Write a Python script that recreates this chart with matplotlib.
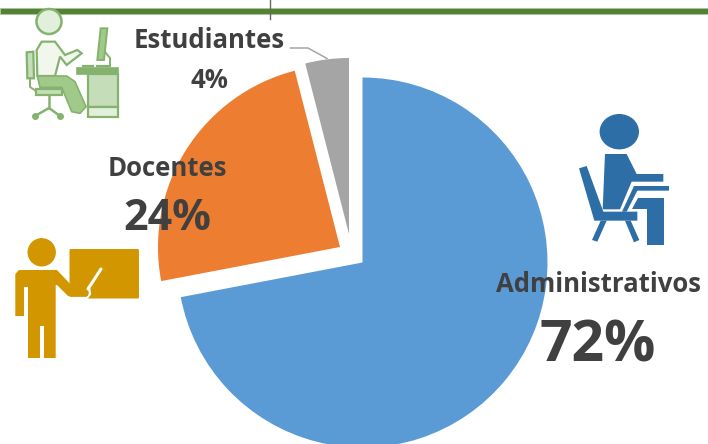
import matplotlib
matplotlib.use('Agg')
from matplotlib import pyplot as plt
from matplotlib.patches import Polygon, Ellipse, FancyBboxPatch, Rectangle

labels = ['Administrativos', 'Docentes', 'Estudiantes']
values = [72, 24, 4]
colors = ['#5B9BD5', '#ED7D31', '#A5A5A5']

plt.rcParams['font.family'] = ['Open Sans', 'DejaVu Sans']

fig = plt.figure(figsize=(7.08, 4.44), dpi=100)
ax = fig.add_axes([0, 0, 1, 1])


# all layout below is in image pixels, y measured from the top
def py(y):
    return 444 - y


def poly(pts, color, ox=0, oy=0, k=1.0, **kw):
    xy = [(ox + x * k, py(oy + y * k)) for x, y in pts]
    ax.add_patch(Polygon(xy, closed=True, facecolor=color, edgecolor=kw.pop('edge', 'none'), **kw))


# pie, the slices in the picture have slightly different sizes
wedges, _ = ax.pie(values, colors=colors, startangle=90, counterclock=False, radius=186, frame=True)
wedges[0].set_center((362.5, py(262.5)))
wedges[0].set_radius(185)
wedges[1].set_center((340, py(247)))
wedges[1].set_radius(182)
wedges[2].set_center((349, py(234)))
wedges[2].set_radius(176)
ax.set_xlim(0, 708)
ax.set_ylim(0, 444)
ax.set_aspect('auto')
ax.axis('off')

# top rule
ax.add_patch(Rectangle((0, py(14)), 708, 6, facecolor='#548235', edgecolor='#A9C79A', lw=0.6, zorder=3))
ax.plot([269.5, 269.5], [py(0), py(19)], color='#5E6B55', lw=1, zorder=4)

# leader line of the small slice
ax.plot([290.5, 308, 327], [py(48), py(48), py(58.5)], color='#A6A6A6', lw=1.1, zorder=4)

# text
ax.text(209, py(41), labels[2], ha='center', va='center', fontsize=18.5, fontweight='bold', color='#404040', zorder=6)
ax.text(209, py(80), '%d%%' % values[2], ha='center', va='center', fontsize=18.5, fontweight='bold', color='#404040', zorder=6)
ax.text(167, py(169), labels[1], ha='center', va='center', fontsize=18.5, fontweight='bold', color='#404040', zorder=6)
ax.text(167, py(218), '%d%%' % values[1], ha='center', va='center', fontsize=31, fontweight='bold', color='#404040', zorder=6)
ax.text(598, py(284), labels[0], ha='center', va='center', fontsize=18.5, fontweight='bold', color='#404040', zorder=6)
ax.text(598, py(347), '%d%%' % values[0], ha='center', va='center', fontsize=41, fontweight='bold', color='#404040', zorder=6)

# teacher icon
gold = '#D29600'
ax.add_patch(Ellipse((41.7, py(252.3)), 27, 27, color=gold, zorder=5))
ax.add_patch(FancyBboxPatch((71, py(297)), 66.5, 46.5, boxstyle='round,pad=1.5', facecolor=gold, edgecolor='none', zorder=5))
ax.plot([68, 87, 90, 89], [py(298), py(298), py(294), py(287)], color='white', lw=1.6, zorder=5.5)
poly([(19, 270), (57, 270), (73, 287), (86, 287), (88, 296), (68, 296), (57, 285), (55.7, 285),
      (55.7, 358), (44, 358), (44, 326), (40, 326), (40, 358), (28, 358), (28, 287), (24, 287),
      (24, 316), (15.3, 316), (15.3, 274)], gold, zorder=6)
ax.plot([88, 101], [py(289), py(269)], color='white', lw=2.2, solid_capstyle='round', zorder=7)

# person at desk, blue icon
blue = '#2E6EA6'
bx, by, bk = 560, 100, 1 / 3
ax.add_patch(Ellipse((619.3, py(131.7)), 38, 34, color=blue, zorder=5))
poly([(135, 162), (200, 162), (230, 222), (310, 222), (310, 245), (215, 245), (180, 328), (128, 328)], blue, bx, by, bk, zorder=5)
poly([(57, 205), (80, 198), (130, 335), (232, 335), (232, 362), (103, 362)], blue, bx, by, bk, zorder=5)
poly([(122, 362), (140, 362), (112, 425), (96, 420)], blue, bx, by, bk, zorder=5)
poly([(195, 362), (212, 362), (238, 420), (222, 427)], blue, bx, by, bk, zorder=5)
poly([(222, 258), (327, 258), (327, 272), (232, 272), (200, 335), (186, 335)], blue, bx, by, bk, zorder=5)
poly([(235, 295), (312, 295), (312, 435), (262, 435), (262, 328), (215, 328)], blue, bx, by, bk, zorder=5)

# student icon, green outline
edge = '#85B26E'
gx, gy, gk = 0, 0, 1 / 3
ax.add_patch(Ellipse((49, py(21.5)), 25, 25, facecolor='#E2EFDA', edgecolor=edge, lw=1.8, zorder=5))
poly([(112, 228), (110, 150), (125, 125), (165, 125), (195, 165), (232, 150), (245, 160), (200, 195), (180, 170), (165, 228)],
     '#F2F7EE', gx, gy, gk, edge=edge, lw=1.6, zorder=5)
poly([(112, 228), (200, 228), (225, 245), (258, 320), (240, 340), (215, 335), (185, 262), (120, 262)],
     '#A0C98A', gx, gy, gk, edge=edge, lw=1.2, zorder=5)
poly([(80, 157), (100, 155), (102, 235), (82, 235)], '#C5DDB8', gx, gy, gk, edge=edge, lw=1.6, zorder=5)
poly([(108, 266), (185, 266), (185, 285), (108, 285)], '#C5DDB8', gx, gy, gk, edge=edge, lw=1.6, zorder=5)
poly([(232, 205), (355, 205), (355, 222), (232, 222)], '#85B26E', gx, gy, gk, edge=edge, lw=1.2, zorder=5)
poly([(265, 222), (355, 222), (355, 320), (265, 320)], '#C5DDB8', gx, gy, gk, edge=edge, lw=1.6, zorder=5)
poly([(265, 320), (355, 320), (355, 352), (265, 352)], '#E2EFDA', gx, gy, gk, edge=edge, lw=1.6, zorder=5)
poly([(302, 85), (322, 85), (312, 180), (292, 180)], '#A0C98A', gx, gy, gk, edge=edge, lw=1.4, zorder=5)
ax.plot([49, 49], [py(95), py(108)], color=edge, lw=1.8, zorder=5)
ax.plot([35, 49, 60], [py(116), py(108), py(116)], color=edge, lw=1.8, zorder=5)
ax.plot([30, 30, 36], [py(78), py(87), py(91)], color=edge, lw=1.4, zorder=5)
ax.plot([35, 60], [py(116), py(116)], color=edge, lw=0, marker='o', ms=4, zorder=5)
ax.plot([105, 110, 110], [py(52), py(58), py(66)], color=edge, lw=1.4, zorder=5)
ax.plot([83, 93], [py(66), py(66)], color=edge, lw=1.6, zorder=5)
ax.plot([97, 108], [py(66), py(66)], color=edge, lw=1.6, zorder=5)

fig.savefig('out.png', dpi=100)
